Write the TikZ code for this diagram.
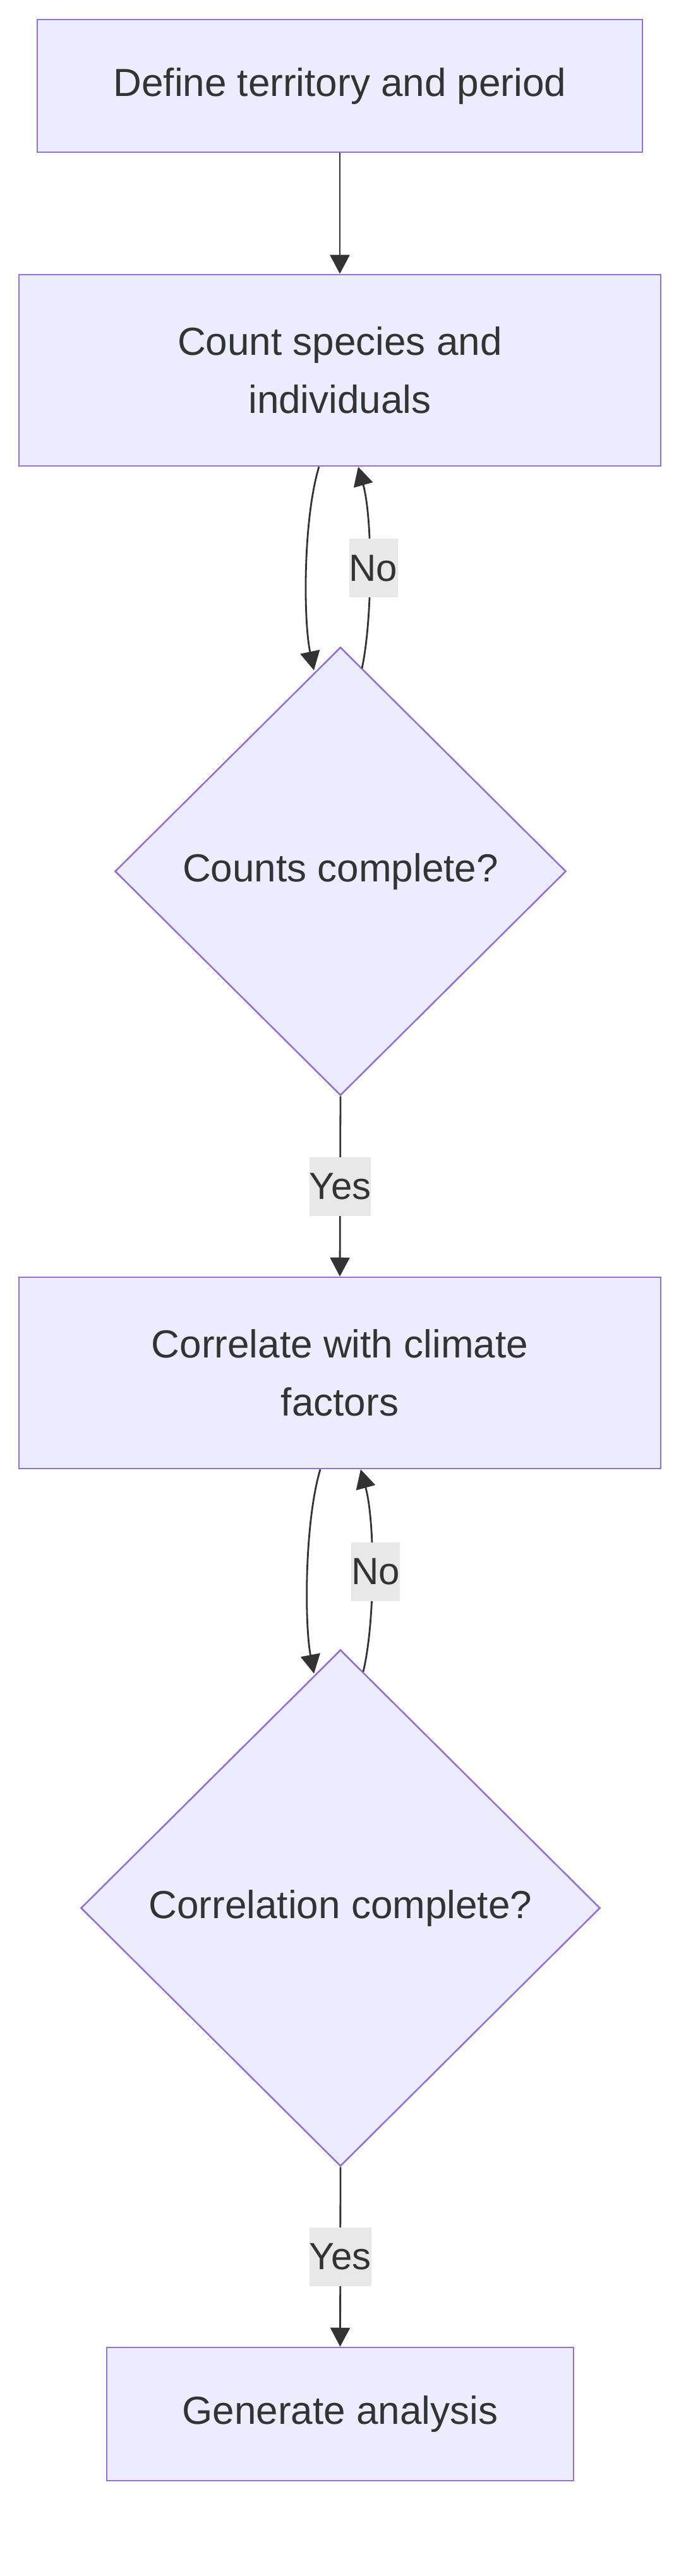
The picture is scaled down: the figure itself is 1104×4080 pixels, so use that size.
\documentclass[tikz,border=0pt]{standalone}
\usepackage{fontspec}
\setmainfont{Liberation Sans}
\usetikzlibrary{shapes.geometric,arrows.meta,calc}
\definecolor{nodefill}{HTML}{ECECFF}
\definecolor{nodeborder}{HTML}{9370DB}
\definecolor{textcol}{HTML}{333333}
\definecolor{edgecol}{HTML}{333333}
\definecolor{labelbg}{HTML}{E8E8E8}
\begin{document}
\begin{tikzpicture}[x=0.5pt,y=-0.5pt,
  procbox/.style={draw=nodeborder, fill=nodefill, line width=1.3pt, rectangle, inner sep=0pt, align=center, text=textcol, font=\fontsize{31}{46}\selectfont},
  decision/.style={draw=nodeborder, fill=nodefill, line width=1.3pt, diamond, inner sep=0pt, align=center, text=textcol, font=\fontsize{31}{46}\selectfont},
  edgelabel/.style={fill=labelbg, inner xsep=0pt, inner ysep=0pt, text=textcol, font=\fontsize{30}{40}\selectfont, minimum height=46.5pt},
  flow/.style={draw=edgecol, line width=1.4pt, -{Triangle[length=15pt,width=15.5pt]}}
]
\useasboundingbox (0,0) rectangle (1104,4080);

\node[procbox, minimum width=479pt, minimum height=105pt] (a) at (538,136) {Define territory and period};
\node[procbox, minimum width=508pt, minimum height=151.5pt] (b) at (538,586.5) {Count species and\\individuals};
\node[decision, minimum width=357pt, minimum height=355pt] (c) at (539,1380) {Counts complete?};
\node[procbox, minimum width=508pt, minimum height=151.5pt] (d) at (538,2174.5) {Correlate with climate\\factors};
\node[decision, minimum width=411pt, minimum height=409pt] (e) at (539,3022) {Correlation complete?};
\node[procbox, minimum width=369.5pt, minimum height=105.5pt] (f) at (538.5,3823.5) {Generate analysis};

\draw[flow] (a.south) -- (b.north);

\draw[flow] ($(b.south)+(-33,0)$) .. controls ($(b.south)+(-58,82)$) and ($(b.south)+(-58,242)$) .. ($(c.north)+(-42,38)$);
\draw[flow] ($(c.north)+(34,35)$) .. controls ($(c.north)+(51,-45)$) and ($(b.south)+(52,82)$) .. ($(b.south)+(29,0)$)
  node[edgelabel, pos=0.5, xshift=3pt, minimum width=38.5pt] (no1) {No};

\draw[flow] (c.south) -- node[edgelabel, midway] (yes1) {Yes} (d.north);

\draw[flow] ($(d.south)+(-31,0)$) .. controls ($(d.south)+(-56,84)$) and ($(d.south)+(-56,244)$) .. ($(e.north)+(-42,39)$);
\draw[flow] ($(e.north)+(36,36)$) .. controls ($(e.north)+(55,-43)$) and ($(d.south)+(56,84)$) .. ($(d.south)+(33,0)$)
  node[edgelabel, pos=0.5, xshift=3pt, minimum width=38.5pt] (no2) {No};

\draw[flow] (e.south) -- node[edgelabel, midway] (yes2) {Yes} (f.north);
\end{tikzpicture}
\end{document}
